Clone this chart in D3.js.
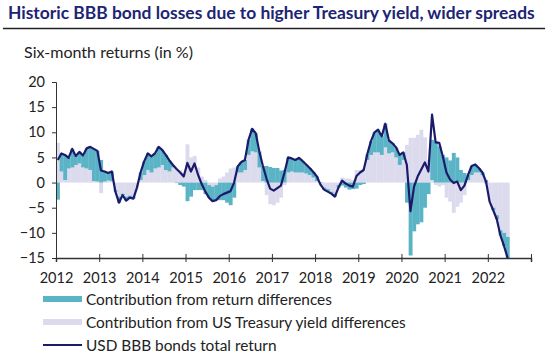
<!DOCTYPE html>
<html>
<head>
<meta charset="utf-8">
<script src="https://cdn.jsdelivr.net/npm/d3@7"></script>
<style>
  body { margin: 0; background: #fff; }
  text { font-family: Lato, "Open Sans", sans-serif; }
</style>
</head>
<body>
<script>
const w = 547;
const h = 353;
const margin = { left: 56, right: 16, top: 82, bottom: 95 };

// monthly data, Jan 2012 - Jun 2022
const startYear = 2012;
const totalReturn = [
  4.5, 5.8, 5.5, 4.9, 6.7, 5.3, 6.1, 5.4, 6.8, 7.1, 6.7, 6.3,
  2.4, 2.2, 1.9, 2.2, -1.8, -4.0, -2.5, -3.6, -3.0, -3.2, -1.0, 2.0,
  4.2, 5.8, 5.2, 5.8, 7.1, 6.5, 5.5, 4.4, 3.5, 2.7, 2.0, 1.2,
  3.9, 2.2, 3.8, 1.5, -0.3, -1.8, -3.0, -3.7, -3.5, -2.7, -2.3, -2.0,
  -1.7, 0.0, 3.2, 4.1, 4.5, 8.5, 10.7, 9.8, 6.2, 3.3, 0.8, -1.2,
  -1.6, -1.1, -0.6, 2.0, 5.0, 4.8, 4.5, 4.9, 4.3, 3.6, 2.9, 2.1,
  1.2, -0.4, -1.4, -1.8, -2.2, -2.8, -1.0, 0.4, -0.2, -0.6, -0.8, 1.3,
  2.0, 2.5, 5.6, 8.2, 10.0, 10.5, 9.2, 11.7, 8.4, 7.8, 7.0, 5.5,
  6.0, 3.5, -5.7, -0.8, 1.2, 2.6, 4.0, 2.2, 13.5, 8.0, 7.9, 5.2,
  2.0, 0.6, -0.1, 0.2, -1.5, -0.6, 1.5, 3.3, 3.6, 2.9, 2.0, 0.2,
  -3.8, -5.5, -7.3, -10.5, -12.6, -15.0
];
const treasuryContribution = [
  7.9, 2.2, 0.5, 2.8, 3.0, 3.5, 3.8, 3.0, 2.8, 2.5, 0.3, 0.2,
  -2.1, 0.2, 0.4, 0.3, -1.5, -2.8, -2.2, -2.8, -2.6, -2.8, -1.0, 0.5,
  1.5, 2.5, 2.0, 2.8, 3.0, 3.5, 2.5, 2.2, 3.0, 2.8, 2.5, 2.0,
  7.6, 5.0, 5.3, 3.0, 1.2, 0.5, -0.5, -0.8, -0.5, 0.8, 1.2, 2.0,
  2.8, 3.0, 2.0, 2.0, 2.5, 5.5, 6.2, 6.0, 3.0, 0.3, -2.5, -4.3,
  -4.5, -4.0, -3.0, -0.5, 2.0, 2.2, 2.0, 2.0, 2.0, 1.8, 1.5, 1.0,
  0.3, -0.5, -1.0, -1.3, -1.8, -2.2, -0.5, 1.0, 0.8, 0.8, 0.5, 2.5,
  2.5, 2.8, 4.5, 5.5, 6.0, 6.0, 5.5, 7.0, 5.8, 6.0, 5.0, 3.5,
  4.5, 7.5, 8.9, 8.9, 9.5, 10.5, 9.0, 4.5, 0.5, -0.5, -0.8, -0.5,
  -3.0, -3.8, -6.0, -4.8, -4.0, -2.5, 0.5, 1.5, 2.0, 2.0, 1.5, -0.3,
  -3.8, -5.0, -6.5, -9.5, -10.0, -10.8
];
const returnContribution = [
  -3.4, 3.6, 5.0, 2.1, 3.7, 1.8, 2.3, 2.4, 4.0, 4.6, 6.4, 6.1,
  4.5, 2.0, 1.5, 1.9, -0.3, -1.2, -0.3, -0.8, -0.4, -0.4, 0.0, 1.5,
  2.7, 3.3, 3.2, 3.0, 4.1, 3.0, 3.0, 2.2, 0.5, -0.1, -0.5, -0.8,
  -3.7, -2.8, -1.5, -1.5, -1.5, -2.3, -2.5, -2.9, -3.0, -3.5, -3.5, -4.0,
  -4.5, -3.0, 1.2, 2.1, 2.0, 3.0, 4.5, 3.8, 3.2, 3.0, 3.3, 3.1,
  2.9, 2.9, 2.4, 2.5, 3.0, 2.6, 2.5, 2.9, 2.3, 1.8, 1.4, 1.1,
  0.9, 0.1, -0.4, -0.5, -0.4, -0.6, -0.5, -0.6, -1.0, -1.4, -1.3, -1.2,
  -0.5, -0.3, 1.1, 2.7, 4.0, 4.5, 3.7, 4.7, 2.6, 1.8, 2.0, 2.0,
  1.5, -4.0, -14.5, -9.7, -8.3, -7.9, -5.0, -2.3, 8.0, 8.2, 7.2, 5.5,
  5.0, 4.4, 5.9, 5.0, 2.5, 1.9, 1.0, 1.8, 1.6, 0.9, 0.5, 0.5,
  0.0, -0.5, -0.8, -1.0, -2.6, -4.2
];
const yearTicks = d3.range(2012, 2024);
const yearLabels = d3.range(2012, 2023);
const yTicks = [-15, -10, -5, 0, 5, 10, 15, 20];

const titleText = "Historic BBB bond losses due to higher Treasury yield, wider spreads";
const subtitleText = "Six-month returns (in %)";
const legendItems = [
  { label: "Contribution from return differences", type: "rect", color: "#5bb4c6" },
  { label: "Contribution from US Treasury yield differences", type: "rect", color: "#dcdbee" },
  { label: "USD BBB bonds total return", type: "line", color: "#1b1a6b" }
];

const data = totalReturn.map((d, i) => ({
  t: startYear + i / 12,
  total: d,
  treasury: treasuryContribution[i],
  spread: returnContribution[i]
}));

const xScale = d3.scaleLinear()
  .domain([2012, 2023])
  .range([margin.left, w - margin.right]);

const yScale = d3.scaleLinear()
  .domain([-15, 20])
  .range([h - margin.bottom, margin.top]);

const svg = d3.select("body")
  .append("svg")
  .attr("width", w)
  .attr("height", h);

svg.append("rect").attr("width", w).attr("height", h).attr("fill", "#fff");

// fit a text element to a target width
const fit = (sel, target) => {
  const cur = sel.node().getComputedTextLength();
  const fs = parseFloat(sel.attr("font-size"));
  sel.attr("font-size", fs * target / cur);
};

const title = svg.append("text")
  .attr("x", 8)
  .attr("y", 19)
  .attr("font-size", 16)
  .attr("font-weight", "bold")
  .attr("fill", "#1c2474")
  .text(titleText);
fit(title, 527);

svg.append("line")
  .attr("x1", 3).attr("x2", 545)
  .attr("y1", 28.5).attr("y2", 28.5)
  .attr("stroke", "#222")
  .attr("stroke-width", 1.5);

const sub = svg.append("text")
  .attr("x", 24)
  .attr("y", 58)
  .attr("font-size", 14)
  .attr("fill", "#222")
  .text(subtitleText);
fit(sub, 169);

// stacked bars
const stack = d3.stack()
  .keys(["treasury", "spread"])
  .offset(d3.stackOffsetDiverging);
const series = stack(data);
const colors = { treasury: "#dcdbee", spread: "#5bb4c6" };
const monthW = xScale(2012 + 1 / 12) - xScale(2012);

svg.selectAll("g.series")
  .data(series)
  .enter()
  .append("g")
  .attr("class", "series")
  .attr("fill", d => colors[d.key])
  .selectAll("rect")
  .data(d => d)
  .enter()
  .append("rect")
  .attr("x", d => xScale(d.data.t))
  .attr("width", monthW + 0.3)
  .attr("y", d => yScale(Math.max(d[0], d[1])))
  .attr("height", d => Math.abs(yScale(d[0]) - yScale(d[1])));

// axes
const yAxis = d3.axisLeft(yScale)
  .tickValues(yTicks)
  .tickSize(4)
  .tickPadding(7);

svg.append("g")
  .attr("id", "y_axis")
  .attr("transform", `translate(${margin.left}, 0)`)
  .call(yAxis)
  .call(g => g.selectAll("text").attr("font-size", 14.5).attr("fill", "#222")
    .attr("font-family", "Lato, sans-serif"))
  .call(g => g.selectAll("line, path").attr("stroke", "#333"));

const xAxis = d3.axisBottom(xScale)
  .tickValues(yearTicks)
  .tickSize(4)
  .tickFormat(d => yearLabels.includes(d) ? d : "");

const gx = svg.append("g")
  .attr("id", "x_axis")
  .attr("transform", `translate(0, ${h - margin.bottom})`)
  .call(xAxis)
  .call(g => g.select(".domain").attr("stroke", "#333").attr("stroke-width", 1.5))
  .call(g => g.selectAll(".tick line").attr("stroke", "#333").attr("y1", -4))
  .call(g => g.selectAll("text").attr("font-size", 14.5).attr("fill", "#222")
    .attr("font-family", "Lato, sans-serif").attr("dy", "1.25em"));

// total return line
const line = d3.line()
  .x(d => xScale(d.t + 0.5 / 12))
  .y(d => yScale(d.total));

svg.append("path")
  .datum(data)
  .attr("fill", "none")
  .attr("stroke", "#1b1a6b")
  .attr("stroke-width", 2.2)
  .attr("stroke-linejoin", "round")
  .attr("d", line);

// legend
const legend = svg.append("g").attr("transform", "translate(43, 299)");
legendItems.forEach((item, i) => {
  const g = legend.append("g").attr("transform", `translate(0, ${i * 23})`);
  if (item.type === "rect") {
    g.append("rect").attr("x", 0).attr("y", -3).attr("width", 39).attr("height", 6).attr("fill", item.color);
  } else {
    g.append("line").attr("x1", 0).attr("x2", 39).attr("y1", 0).attr("y2", 0)
      .attr("stroke", item.color).attr("stroke-width", 2);
  }
  g.append("text")
    .attr("x", 43)
    .attr("y", 5.5)
    .attr("font-size", 15)
    .attr("fill", "#222")
    .text(item.label);
});
legend.selectAll("text").each(function (d, i) {
  if (i === 0) fit(d3.select(this), 246);
});
const fsLegend = legend.select("text").attr("font-size");
legend.selectAll("text").attr("font-size", fsLegend);
</script>
</body>
</html>
